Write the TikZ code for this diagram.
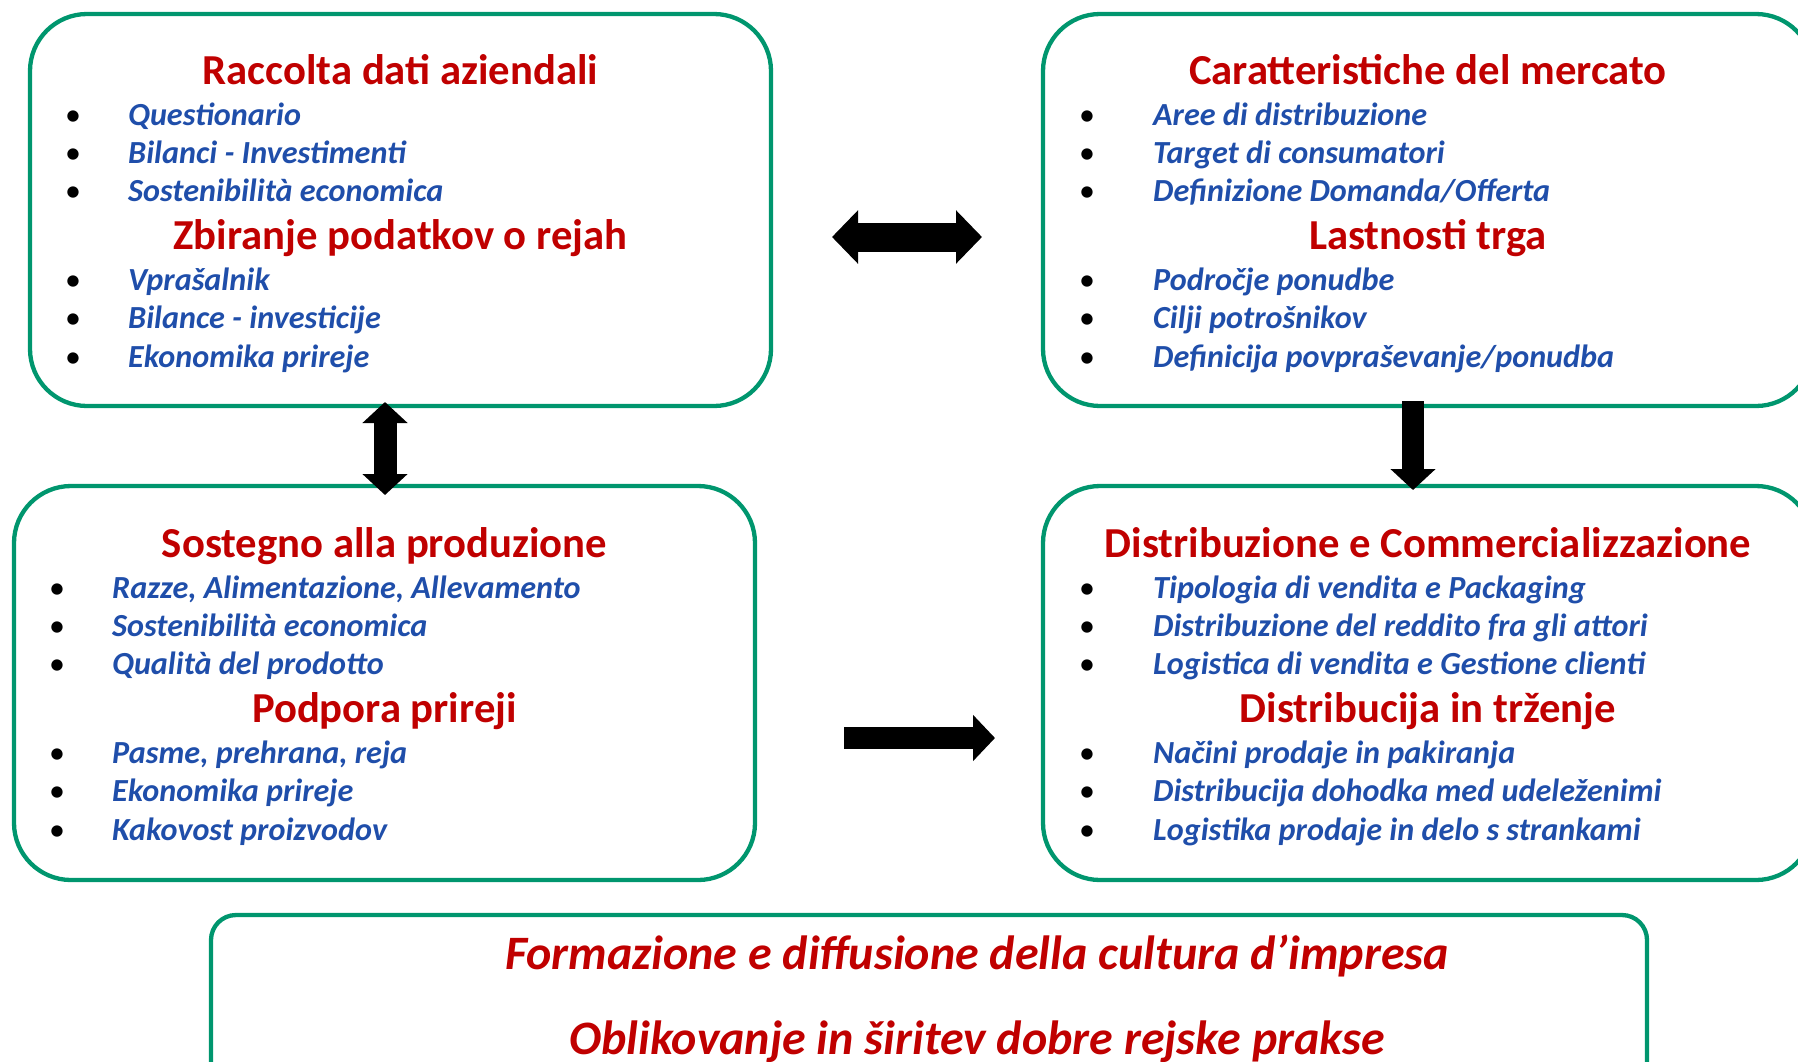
\documentclass[tikz,border=0pt]{standalone}
\usepackage{fontspec}
\setmainfont{Carlito}
\usetikzlibrary{arrows.meta}
\usepackage{xcolor}
\definecolor{boxgreen}{RGB}{0,150,110}
\definecolor{headred}{RGB}{192,0,0}
\definecolor{itemblue}{RGB}{31,78,170}

\begin{document}
\begin{tikzpicture}[
x=1pt, y=-1pt,
box/.style={draw=boxgreen,
line width=4.3pt,
rounded corners=57pt,
minimum width=741pt,
minimum height=392pt},
head/.style={anchor=base, inner sep=0pt, text=headred, font=\bfseries\fontsize{42.7}{42.7}\selectfont},
itemtext/.style={anchor=base west, inner sep=0pt, text=itemblue, font=\bfseries\itshape\fontsize{32.2}{32.2}\selectfont},
bul/.style={anchor=base, inner sep=0pt, font=\fontsize{32}{32}\selectfont},
note/.style={anchor=base, inner sep=0pt, text=headred, font=\bfseries\itshape\fontsize{48}{48}\selectfont},
harrow/.style={line width=29pt, {Triangle[length=26pt,width=52pt]}-{Triangle[length=26pt,width=52pt]}},
varrow/.style={line width=23pt, {Triangle[length=21pt,width=44pt]}-{Triangle[length=21pt,width=44pt]}},
sarrow/.style={line width=22pt, -{Triangle[length=21pt,width=44pt]}}
]

\clip (0,0) rectangle (1798,1061);

% boxes
\node[box] (dati) at (400.5,210) {};
\node[box, minimum width=770pt] (mercato) at (1428,210) {};
\node[box, minimum height=394pt] (produzione) at (384.5,683) {};
\node[box, minimum width=770pt, minimum height=394pt] (distribuzione) at (1428,683) {};
\node[box, rounded corners=25pt, minimum width=1436pt, minimum height=200pt] (cultura) at (929,1015) {};

% top left
\node[head] (dati-h1) at (dati.center |- 0,84) {Raccolta dati aziendali};
\node[head] (dati-h2) at (dati.center |- 0,249) {Zbiranje podatkov o rejah};
\foreach \t/\y [count=\i] in {Questionario/125, Bilanci - Investimenti/163, Sostenibilità economica/201,
  Vprašalnik/290, Bilance - investicije/328, Ekonomika prireje/367} {
  \node[bul] (dati-b\i) at (73,\y) {\textbullet};
  \node[itemtext] (dati-t\i) at (128,\y) {\t};
}

% top right
\node[head] (mercato-h1) at (mercato.center |- 0,84) {Caratteristiche del mercato};
\node[head] (mercato-h2) at (mercato.center |- 0,249) {Lastnosti trga};
\foreach \y [count=\i] in {125, 163, 201, 290, 328, 367} {
  \node[bul] (mercato-b\i) at (1087,\y) {\textbullet};
}
\node[itemtext] (mercato-t1) at (1153,125) {Aree di distribuzione};
\node[itemtext] (mercato-t2) at (1153,163) {Target di consumatori};
\node[itemtext] (mercato-t3) at (1153,201) {Definizione Domanda/Offerta};
\node[itemtext] (mercato-t4) at (1153,290) {Področje ponudbe};
\node[itemtext] (mercato-t5) at (1153,328) {Cilji potrošnikov};
\node[itemtext] (mercato-t6) at (1153,367) {Definicija povpraševanje/ponudba};

% bottom left
\node[head] (produzione-h1) at (produzione.center |- 0,557) {Sostegno alla produzione};
\node[head] (produzione-h2) at (produzione.center |- 0,722) {Podpora prireji};
\foreach \t/\y [count=\i] in {{Razze, Alimentazione, Allevamento}/598, Sostenibilità economica/636, Qualità del prodotto/674,
  {Pasme, prehrana, reja}/763, Ekonomika prireje/801, Kakovost proizvodov/840} {
  \node[bul] (produzione-b\i) at (57,\y) {\textbullet};
  \node[itemtext] (produzione-t\i) at (112,\y) {\t};
}

% bottom right
\node[head] (distribuzione-h1) at (distribuzione.center |- 0,557) {Distribuzione e Commercializzazione};
\node[head] (distribuzione-h2) at (distribuzione.center |- 0,722) {Distribucija in trženje};
\foreach \t/\y [count=\i] in {Tipologia di vendita e Packaging/598, Distribuzione del reddito fra gli attori/636,
  Logistica di vendita e Gestione clienti/674, Načini prodaje in pakiranja/763,
  Distribucija dohodka med udeleženimi/801, Logistika prodaje in delo s strankami/840} {
  \node[bul] (distribuzione-b\i) at (1087,\y) {\textbullet};
  \node[itemtext] (distribuzione-t\i) at (1153,\y) {\t};
}

% bottom
\node[note] (cultura-t1) at (977,969) {Formazione e diffusione della cultura d’impresa};
\node[note] (cultura-t2) at (977,1054) {Oblikovanje in širitev dobre rejske prakse};

% arrows
\coordinate (dm-l) at (832,237);
\coordinate (dm-r) at (982,237);
\coordinate (dp-t) at (385,402);
\coordinate (dp-b) at (385,495);
\coordinate (md-t) at (1413,401);
\coordinate (md-b) at (1413,490);
\coordinate (pd-l) at (844,738);
\coordinate (pd-r) at (995,738);

\draw[harrow] (dm-l) -- (dm-r);
\draw[varrow] (dp-t) -- (dp-b);
\draw[sarrow] (md-t) -- (md-b);
\draw[sarrow, -{Triangle[length=22pt,width=45pt]}] (pd-l) -- (pd-r);

\end{tikzpicture}
\end{document}
